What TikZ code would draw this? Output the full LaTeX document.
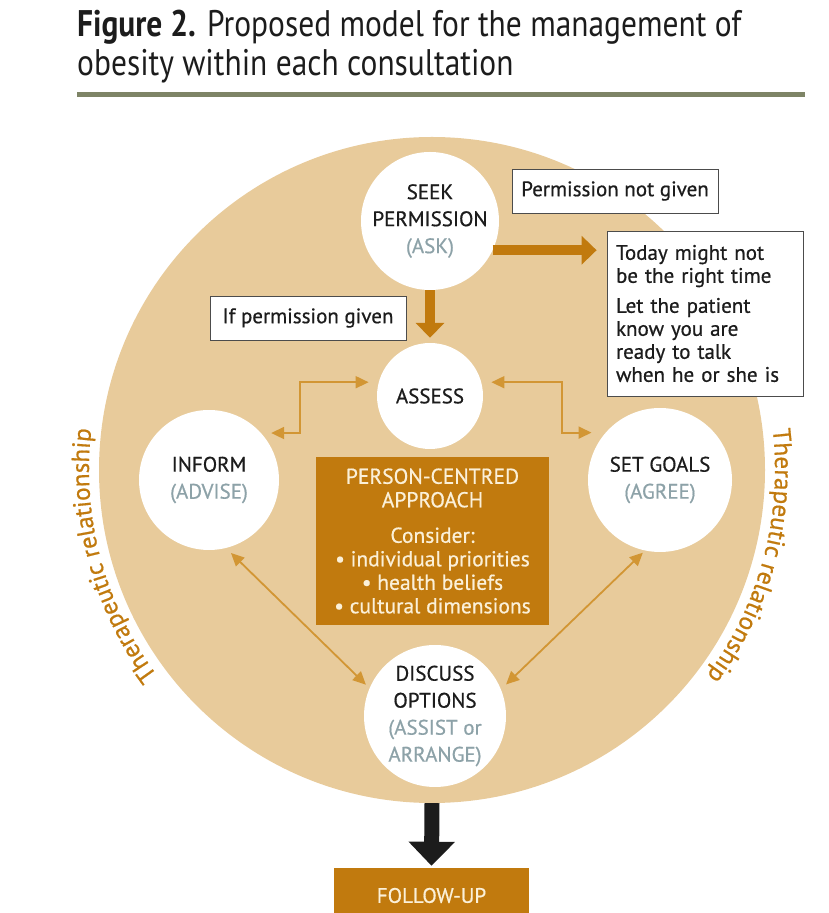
\documentclass[tikz,border=0pt]{standalone}
\usepackage{fontspec}
\setmainfont[FakeBold=0.6]{PT Sans}
\newfontfamily\titlefont[FakeStretch=0.85]{PT Sans}
\usetikzlibrary{arrows.meta,decorations.text,calc}
\definecolor{beige}{HTML}{E8CB9B}
\definecolor{ochre}{HTML}{C17A0E}
\definecolor{gold}{HTML}{D29634}
\definecolor{greyblue}{HTML}{8DA2A8}
\definecolor{olive}{HTML}{7E8466}
\definecolor{cream}{HTML}{FBF0D8}
\definecolor{ink}{HTML}{1C1C1C}

\begin{document}
\begin{tikzpicture}[x=1pt,y=1pt,text=ink,
					stage/.append style={circle,fill=white,inner sep=0pt,align=center,font=\fontsize{21}{27}\selectfont},
					note/.append style={draw=black!70,line width=.8pt,fill=white,inner sep=0pt,font=\fontsize{21}{23}\selectfont},
					a/.append style={<->,>={Triangle[length=13pt,width=12pt]},draw=gold,line width=1.8pt},
					fat/.append style={->,>={Triangle[length=15pt,width=28pt]},draw=ochre,line width=10pt}]
\useasboundingbox (0,0) rectangle (829,913);
\node[anchor=north west,align=left,inner sep=0pt,font=\titlefont\fontsize{37}{39}\selectfont] (title) at (77,903)
	{\textbf{Figure 2.} Proposed model for the management of\\obesity within each consultation};
\draw[olive,line width=5pt] (77,818) -- (805,818);
\node[circle,fill=beige,inner sep=0pt,minimum size=666] (ring) at (432,443) {};
\node[stage,minimum size=138] (seek) at (430,692) {SEEK\\PERMISSION\\\textcolor{greyblue}{(ASK)}};
\node[stage,minimum size=106] (assess) at (430,517) {ASSESS};
\node[stage,minimum size=140] (inform) at (209,433) {INFORM\\\textcolor{greyblue}{(ADVISE)}};
\node[stage,minimum size=144] (goals) at (660,433) {SET GOALS\\\textcolor{greyblue}{(AGREE)}};
\node[stage,minimum size=142] (discuss) at (435,197) {DISCUSS\\OPTIONS\\{\color{greyblue}(ASSIST or}\\{\color{greyblue}ARRANGE)}};
\node[fill=ochre,text=cream,minimum width=233,minimum height=168,align=center,font=\fontsize{21.5}{23.5}\selectfont] (pca) at (432.5,372)
	{PERSON-CENTRED\\APPROACH\\[12pt]Consider:\\\textbullet{} individual priorities\\\textbullet{} health beliefs\\\textbullet{} cultural dimensions};
\node[note,minimum width=206,minimum height=44] (nogo) at (615,722) {Permission not given};
\node[note,minimum width=196,minimum height=44] (go) at (308,595) {If permission given};
\node[note,minimum width=196,minimum height=165,text width=178,align=left] (today) at (705,599.5)
	{Today might not\\be the right time\\[7pt]Let the patient\\know you are\\ready to talk\\when he or she is};
\node[fill=ochre,text=cream,minimum width=195,minimum height=55,font=\fontsize{21}{24}\selectfont] (follow) at (431.5,17.5) {FOLLOW-UP};
% permission
\draw[fat,shorten >=5pt] (seek) -- (assess);
\draw[fat,shorten >=10pt] (seek.-25) -- (seek.-25 -| today.west);
% cycle
\draw[a,shorten <=10pt,shorten >=10pt] (assess.165) -- ++(-79,0) |- (inform.42);
\draw[a,shorten <=10pt,shorten >=14pt] (assess.15) -- ++(81,0) |- (goals.139);
\draw[a,shorten <=7pt,shorten >=5pt] (inform.-76) -- (discuss.157);
\draw[a,shorten <=3pt,shorten >=7pt] (goals.-102) -- (discuss.22);
\draw[-{Triangle[length=24pt,width=45pt]},draw=ink,line width=15pt,shorten >=2pt] (ring.south) -- (follow.north);
% curved labels
\path[decorate,decoration={text along path,text align=center,text={|\fontsize{25}{25}\selectfont\color{ochre}|Therapeutic relationship}}]
	([shift={(240:343)}]ring.center) arc[start angle=240,end angle=150,radius=343];
\path[decorate,decoration={text along path,text align=center,text={|\fontsize{25}{25}\selectfont\color{ochre}|Therapeutic relationship}}]
	([shift={(30:343)}]ring.center) arc[start angle=30,end angle=-60,radius=343];
\end{tikzpicture}
\end{document}
